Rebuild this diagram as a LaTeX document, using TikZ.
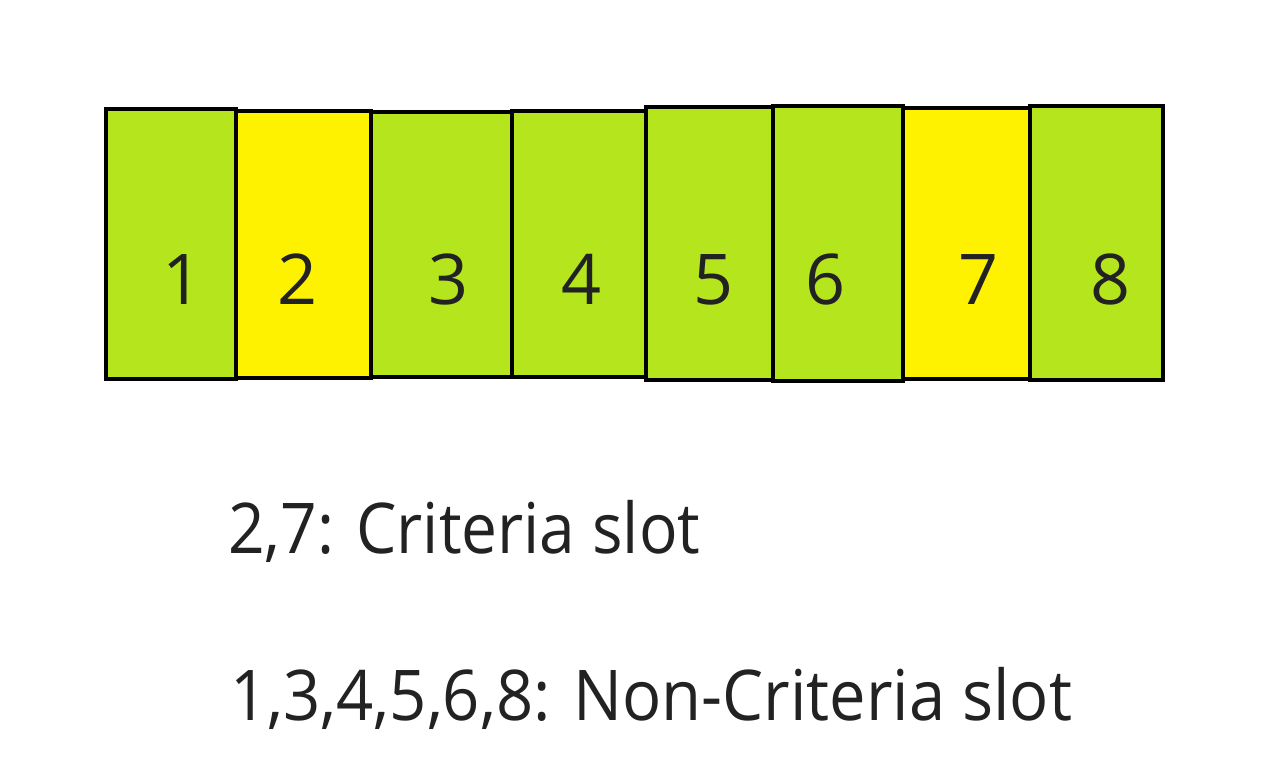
\documentclass[tikz,border=0pt]{standalone}
\usepackage{fontspec}
\setmainfont{Open Sans}
\definecolor{slotgreen}{RGB}{181,230,29}
\definecolor{slotyellow}{RGB}{255,242,0}
\definecolor{txt}{RGB}{34,34,34}
\tikzset{
  slotbox/.style={draw=black, line width=4.6pt},
  greenslot/.style={slotbox, fill=slotgreen},
  yellowslot/.style={slotbox, fill=slotyellow},
  digit/.style={anchor=base, text=txt, inner sep=0pt, font=\fontsize{70}{80}\selectfont},
  legend/.style={anchor=base west, text=txt, inner sep=0pt, font=\fontsize{70}{80}\selectfont}
}
\begin{document}
\begin{tikzpicture}[x=1pt, y=-1pt]
\useasboundingbox (0,0) rectangle (1287,774);
\fill[white] (0,0) rectangle (1287,774);
\path[greenslot]  (106,109) rectangle (236,379);
\path[yellowslot] (236,111) rectangle (371,378);
\path[greenslot]  (371,112) rectangle (512,377);
\path[greenslot]  (512,111) rectangle (646,377);
\path[greenslot]  (646,107) rectangle (773,380);
\path[greenslot]  (773,106) rectangle (903,381);
\path[yellowslot] (903,108) rectangle (1030,379);
\path[greenslot]  (1030,106) rectangle (1163,380);
\node[digit] (d1) at (183,304) {1};
\node[digit] (d2) at (298,304) {2};
\node[digit] (d3) at (449,304) {3};
\node[digit] (d4) at (582,304) {4};
\node[digit] (d5) at (714,304) {5};
\node[digit] (d6) at (826,304) {6};
\node[digit] (d7) at (978,304) {7};
\node[digit] (d8) at (1110,304) {8};
\node[legend] (crit) at (228,553) {\scalebox{0.915}[1]{2,7: Criteria slot}};
\node[legend] (noncrit) at (230,720) {\scalebox{0.93}[1]{1,3,4,5,6,8: Non-Criteria slot}};
\end{tikzpicture}
\end{document}
